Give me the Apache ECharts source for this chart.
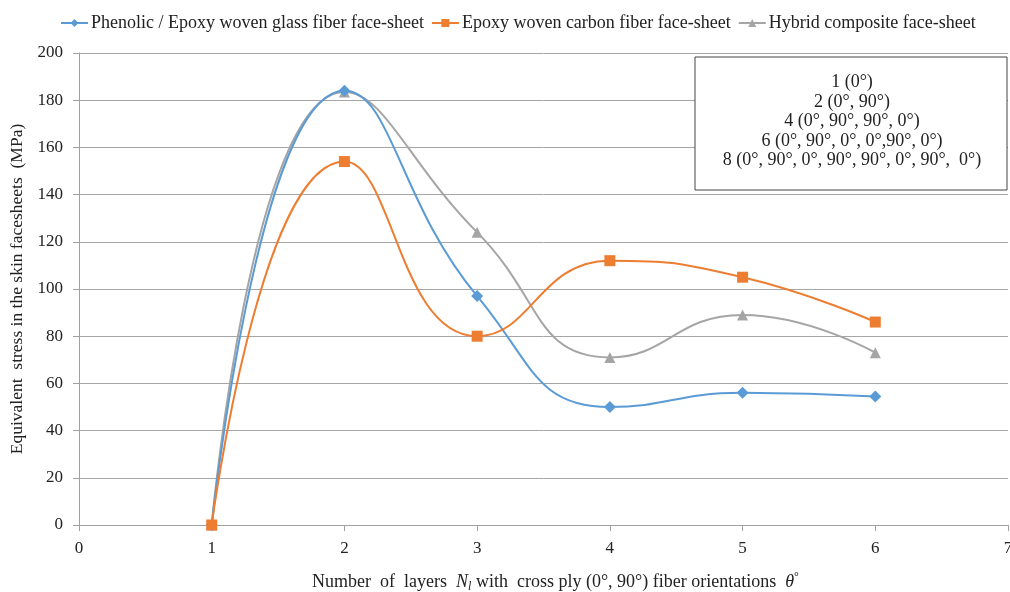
<!DOCTYPE html>
<html><head><meta charset="utf-8">
<script src="https://cdn.jsdelivr.net/npm/echarts@6/dist/echarts.min.js"></script>
<style>html,body{margin:0;padding:0;background:#fff;overflow:hidden}#c{width:1010px;height:592px}</style>
</head><body><div id="c"></div>
<script>
const layers = [1, 2, 3, 4, 5, 6];
const phenolicGlass = [0, 184, 97, 50, 56, 54.5];
const epoxyCarbon = [0, 154, 80, 112, 105, 86];
const hybrid = [0, 183.5, 124, 71, 89, 73];
const seriesNames = ['Phenolic / Epoxy woven glass fiber face-sheet', 'Epoxy woven carbon fiber face-sheet', 'Hybrid composite face-sheet'];
const boxLines = ['1 (0°)', '2 (0°, 90°)', '4 (0°, 90°, 90°, 0°)', '6 (0°, 90°, 0°, 0°,90°, 0°)', '8 (0°, 90°, 0°, 90°, 90°, 0°, 90°,  0°)'];
const yTicks = [0, 200, 20];
const xTicks = [0, 7, 1];

const font = 'Liberation Serif';
const colors = ['#5b9bd5', '#ed7d31', '#a5a5a5'];
const symbols = ['diamond', 'rect', 'triangle'];
const symbolSizes = [12, 11, 11];
const dataSets = [phenolicGlass, epoxyCarbon, hybrid];
const zOrder = [2, 3, 1];

const chart = echarts.init(document.getElementById('c'));
chart.setOption({
  animation: false,
  textStyle: { fontFamily: font },
  legend: {
    top: 9, left: 55, itemGap: 7, itemWidth: 27, itemHeight: 10,
    textStyle: { fontFamily: font, fontSize: 18, color: '#222', padding: [0, 0, 0, -2] },
    data: seriesNames
  },
  grid: { left: 79, right: 2, top: 53, bottom: 67, containLabel: false, outerBoundsMode: 'none' },
  xAxis: {
    type: 'value', min: xTicks[0], max: xTicks[1], interval: xTicks[2],
    name: '{t|Number  of  layers  }{i|N}{s|l}{t| with  cross ply (0°, 90°) fiber orientations  }{i|θ}{u|°}',
    nameLocation: 'middle', nameGap: 46,
    nameTextStyle: { padding: [0, 0, 0, 24], rich: {
      t: { fontFamily: font, fontSize: 18, color: '#222' },
      i: { fontFamily: font, fontSize: 18, fontStyle: 'italic', color: '#222' },
      s: { fontFamily: font, fontSize: 12, fontStyle: 'italic', color: '#222', padding: [10, 0, 0, 0] },
      u: { fontFamily: font, fontSize: 12, color: '#222', padding: [0, 0, 10, 0] }
    } },
    axisLine: { show: true, lineStyle: { color: '#a0a0a0', width: 1 } },
    axisTick: { show: true, length: 6, lineStyle: { color: '#a0a0a0' } },
    axisLabel: { fontFamily: font, fontSize: 17, color: '#222', margin: 15 },
    splitLine: { show: false }
  },
  yAxis: {
    type: 'value', min: yTicks[0], max: yTicks[1], interval: yTicks[2],
    name: 'Equivalent  stress in the skin facesheets  (MPa)',
    nameLocation: 'middle', nameGap: 52,
    nameTextStyle: { fontFamily: font, fontSize: 17.5, color: '#222' },
    axisLine: { show: true, lineStyle: { color: '#a0a0a0', width: 1 } },
    axisTick: { show: true, length: 6, lineStyle: { color: '#a0a0a0' } },
    axisLabel: { fontFamily: font, fontSize: 17, color: '#222', margin: 16 },
    splitLine: { show: true, lineStyle: { color: '#a6a6a6', width: 1 } }
  },
  graphic: [
    { type: 'rect', shape: { x: 695, y: 57, width: 312, height: 133 }, style: { fill: '#fff', stroke: '#444', lineWidth: 1 }, z: 10 },
    { type: 'text', x: 852, y: 73, z: 11,
      style: { text: boxLines.join('\n'), fontFamily: font, fontSize: 18, lineHeight: 19.4, fill: '#222', align: 'center', verticalAlign: 'top' } }
  ],
  series: dataSets.map((d, i) => ({
    name: seriesNames[i], type: 'line', smooth: 0.5,
    data: layers.map((x, j) => [x, d[j]]),
    symbol: symbols[i], symbolSize: symbolSizes[i], showSymbol: true,
    itemStyle: { color: colors[i] },
    lineStyle: { color: colors[i], width: 2 },
    z: zOrder[i]
  }))
});
</script></body></html>
